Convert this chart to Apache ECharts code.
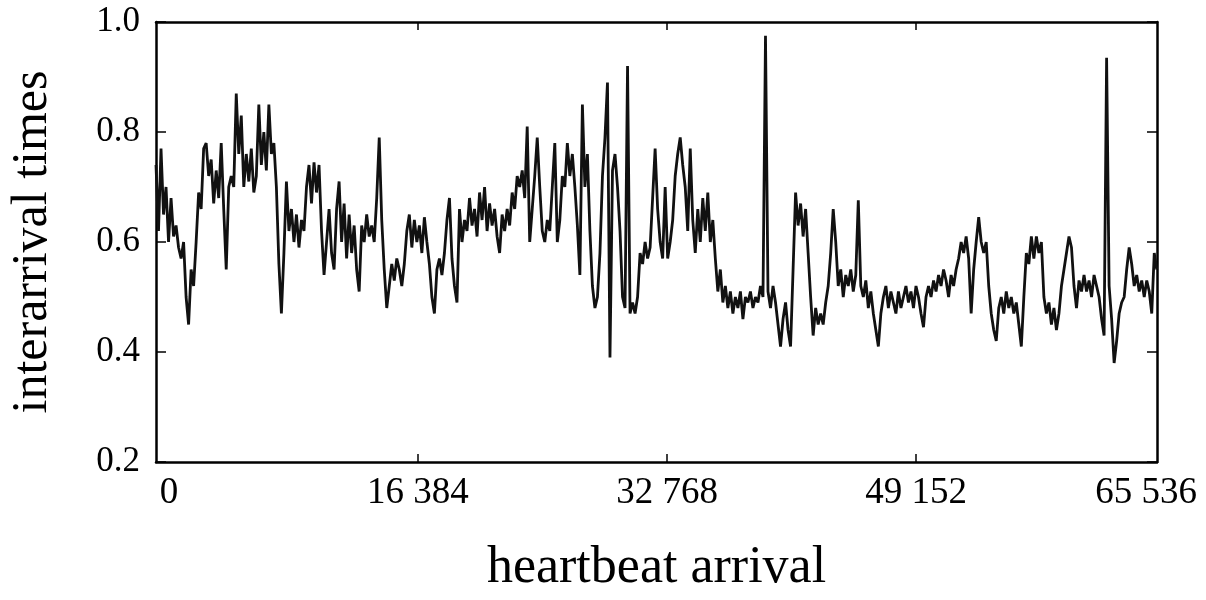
<!DOCTYPE html>
<html>
<head>
<meta charset="utf-8">
<script src="https://cdn.jsdelivr.net/npm/echarts@6/dist/echarts.min.js"></script>
<style>
  html, body { margin: 0; padding: 0; background: #fff; }
  #chart { width: 1206px; height: 600px; }
</style>
</head>
<body>
<div id="chart"></div>
<script>
// heartbeat index of the first sample and spacing between samples
const xStart = -850
const xStep = 165
const xMin = -850
const xMax = 65000

// interarrival times, one every xStep beats
const values = [
  0.74, 0.62, 0.77, 0.65, 0.70, 0.60, 0.68, 0.61, 0.63, 0.59,
  0.57, 0.60, 0.50, 0.45, 0.55, 0.52, 0.60, 0.69, 0.66, 0.77,
  0.78, 0.72, 0.75, 0.67, 0.73, 0.68, 0.78, 0.66, 0.55, 0.70,
  0.72, 0.70, 0.87, 0.76, 0.83, 0.70, 0.76, 0.71, 0.77, 0.69,
  0.72, 0.85, 0.74, 0.80, 0.73, 0.85, 0.76, 0.78, 0.70, 0.56,
  0.47, 0.58, 0.71, 0.62, 0.66, 0.60, 0.65, 0.59, 0.64, 0.62,
  0.70, 0.74, 0.67, 0.745, 0.69, 0.74, 0.62, 0.54, 0.60, 0.66,
  0.58, 0.55, 0.66, 0.71, 0.60, 0.67, 0.57, 0.65, 0.58, 0.63,
  0.55, 0.51, 0.63, 0.60, 0.65, 0.61, 0.63, 0.60, 0.68, 0.79,
  0.64, 0.55, 0.48, 0.52, 0.56, 0.53, 0.57, 0.55, 0.52, 0.56,
  0.62, 0.65, 0.59, 0.64, 0.60, 0.63, 0.58, 0.645, 0.60, 0.56,
  0.50, 0.47, 0.55, 0.57, 0.54, 0.58, 0.64, 0.68, 0.57, 0.52,
  0.49, 0.66, 0.60, 0.64, 0.62, 0.68, 0.63, 0.66, 0.61, 0.69,
  0.64, 0.70, 0.62, 0.67, 0.63, 0.66, 0.61, 0.58, 0.65, 0.62,
  0.66, 0.63, 0.69, 0.66, 0.72, 0.70, 0.73, 0.68, 0.81, 0.60,
  0.66, 0.72, 0.79, 0.70, 0.62, 0.60, 0.64, 0.62, 0.70, 0.78,
  0.60, 0.64, 0.72, 0.70, 0.78, 0.72, 0.76, 0.70, 0.63, 0.54,
  0.85, 0.70, 0.76, 0.62, 0.52, 0.48, 0.50, 0.58, 0.72, 0.79,
  0.89, 0.39, 0.73, 0.76, 0.70, 0.62, 0.50, 0.48, 0.92, 0.47,
  0.49, 0.47, 0.50, 0.58, 0.56, 0.60, 0.57, 0.59, 0.68, 0.77,
  0.66, 0.60, 0.57, 0.70, 0.57, 0.60, 0.64, 0.72, 0.76, 0.79,
  0.74, 0.70, 0.62, 0.77, 0.64, 0.58, 0.66, 0.60, 0.68, 0.62,
  0.69, 0.60, 0.64, 0.57, 0.51, 0.55, 0.49, 0.52, 0.48, 0.51,
  0.47, 0.50, 0.48, 0.51, 0.46, 0.50, 0.49, 0.51, 0.48, 0.50,
  0.49, 0.52, 0.50, 0.975, 0.51, 0.48, 0.52, 0.49, 0.45, 0.41,
  0.46, 0.49, 0.44, 0.41, 0.55, 0.69, 0.63, 0.67, 0.61, 0.66,
  0.58, 0.50, 0.43, 0.48, 0.45, 0.47, 0.45, 0.49, 0.52, 0.58,
  0.66, 0.60, 0.52, 0.55, 0.50, 0.54, 0.52, 0.55, 0.51, 0.54,
  0.676, 0.52, 0.50, 0.53, 0.48, 0.51, 0.47, 0.44, 0.41, 0.47,
  0.50, 0.52, 0.48, 0.51, 0.49, 0.47, 0.51, 0.48, 0.50, 0.52,
  0.49, 0.51, 0.48, 0.52, 0.50, 0.47, 0.445, 0.50, 0.52, 0.50,
  0.53, 0.51, 0.54, 0.52, 0.55, 0.53, 0.50, 0.54, 0.52, 0.55,
  0.57, 0.60, 0.58, 0.61, 0.57, 0.47, 0.55, 0.60, 0.645, 0.60,
  0.58, 0.60, 0.52, 0.47, 0.44, 0.42, 0.48, 0.50, 0.47, 0.51,
  0.48, 0.50, 0.47, 0.49, 0.45, 0.41, 0.50, 0.58, 0.56, 0.61,
  0.57, 0.61, 0.58, 0.60, 0.50, 0.47, 0.49, 0.45, 0.48, 0.44,
  0.47, 0.52, 0.55, 0.58, 0.61, 0.59, 0.52, 0.48, 0.53, 0.51,
  0.54, 0.51, 0.53, 0.50, 0.54, 0.52, 0.50, 0.46, 0.43, 0.935,
  0.52, 0.46, 0.38, 0.42, 0.47, 0.49, 0.50, 0.55, 0.59, 0.56,
  0.52, 0.54, 0.51, 0.53, 0.50, 0.53, 0.51, 0.47, 0.58, 0.55
]

const xTickValues = [0, 16384, 32768, 49152, 65536]
const xTickLabels = ['0', '16 384', '32 768', '49 152', '65 536']
const yTickValues = [0.2, 0.4, 0.6, 0.8, 1.0]

const serif = '"Liberation Serif", "DejaVu Serif", serif'
const seriesData = values.map((v, i) => [xStart + i * xStep, v])
const xLabelPos = xTickValues.map(v => Math.min(v, xMax))
// only the three middle ticks are drawn, the ends sit on the frame
const innerTicks = xTickValues.slice(1, -1)

const frame = { show: true, onZero: false, lineStyle: { color: '#000', width: 2.5 } }

const chart = echarts.init(document.getElementById('chart'))
chart.setOption({
  animation: false,
  backgroundColor: '#fff',
  grid: { left: 156, right: 49, top: 22, bottom: 138 },
  xAxis: [{
    type: 'value',
    min: xMin,
    max: xMax,
    position: 'bottom',
    axisLine: frame,
    splitLine: { show: false },
    axisTick: { show: true, inside: true, length: 8, customValues: innerTicks, lineStyle: { color: '#000', width: 1.5 } },
    axisLabel: {
      customValues: xLabelPos,
      margin: 13,
      color: '#000',
      fontFamily: serif,
      fontSize: 37,
      formatter: function (v) {
        const i = xLabelPos.indexOf(v)
        if (i === xLabelPos.length - 1) return '{last|' + xTickLabels[i] + '}'
        return i >= 0 ? xTickLabels[i] : ''
      },
      rich: { last: { fontFamily: serif, fontSize: 37, color: '#000', padding: [0, 22, 0, 0] } }
    },
    name: 'heartbeat arrival',
    nameLocation: 'middle',
    nameGap: 80,
    nameTextStyle: { color: '#000', fontFamily: serif, fontSize: 52 }
  }, {
    type: 'value',
    min: xMin,
    max: xMax,
    position: 'top',
    axisLine: frame,
    splitLine: { show: false },
    axisTick: { show: true, inside: true, length: 8, customValues: innerTicks, lineStyle: { color: '#000', width: 1.5 } },
    axisLabel: { show: false }
  }],
  yAxis: [{
    type: 'value',
    min: 0.2,
    max: 1.0,
    interval: 0.2,
    position: 'left',
    axisLine: frame,
    splitLine: { show: false },
    axisTick: { show: true, inside: true, length: 10, lineStyle: { color: '#000', width: 1.5 } },
    axisLabel: {
      customValues: yTickValues,
      margin: 16,
      color: '#000',
      fontFamily: serif,
      fontSize: 35,
      formatter: v => v.toFixed(1)
    },
    name: 'interarrival times',
    nameLocation: 'middle',
    nameGap: 98,
    nameTextStyle: { color: '#000', fontFamily: serif, fontSize: 50 }
  }, {
    type: 'value',
    min: 0.2,
    max: 1.0,
    interval: 0.2,
    position: 'right',
    axisLine: frame,
    splitLine: { show: false },
    axisTick: { show: true, inside: true, length: 10, lineStyle: { color: '#000', width: 1.5 } },
    axisLabel: { show: false }
  }],
  series: [{
    type: 'line',
    data: seriesData,
    showSymbol: false,
    sampling: 'none',
    lineStyle: { color: '#111', width: 2.8 },
    z: 1
  }]
})
</script>
</body>
</html>
